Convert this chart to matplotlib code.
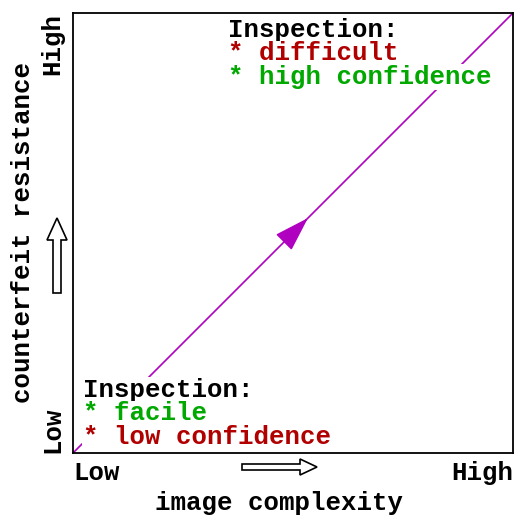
import matplotlib
matplotlib.use("Agg")
import matplotlib.pyplot as plt
from matplotlib.patches import FancyArrow

# Data
line_x = [0.0, 1.0]
line_y = [0.0, 1.0]
arrow_start = (0.482, 0.482)
arrow_end = (0.534, 0.534)
x_ticks = [0.0, 1.0]
x_ticklabels = ["Low", "High"]
y_ticks = [0.0, 1.0]
y_ticklabels = ["Low", "High"]
xlabel = "image complexity"
ylabel = "counterfeit resistance"
upper_lines = ["Inspection:", "* difficult", "* high confidence"]
upper_colors = ["black", "#b00000", "#00a800"]
lower_lines = ["Inspection:", "* facile", "* low confidence"]
lower_colors = ["black", "#00a800", "#b00000"]

FONT = "Liberation Mono"
FS = 18.5
MAG = "#b000c0"

W = 515
fig = plt.figure(figsize=(5.15, 5.15), dpi=100)
ax = fig.add_axes([73 / W, 62 / W, 440 / W, 440 / W])
ax.set_xlim(0, 1)
ax.set_ylim(0, 1)
for s in ax.spines.values():
    s.set_linewidth(1.3)

ax.plot(line_x, line_y, color=MAG, lw=1.2, zorder=1)
ax.annotate("", xy=arrow_end, xytext=arrow_start,
            arrowprops=dict(arrowstyle="-|>,head_length=2.2,head_width=0.7",
                            color=MAG, lw=1.2, shrinkA=0, shrinkB=0), zorder=2)

ax.set_xticks(x_ticks)
ax.set_xticklabels(x_ticklabels, fontfamily=FONT, fontweight="bold", fontsize=FS)
ax.set_yticks(y_ticks)
ax.set_yticklabels(y_ticklabels, fontfamily=FONT, fontweight="bold", fontsize=FS,
                   rotation=90)
ax.tick_params(axis="both", length=0)
ax.tick_params(axis="x", pad=6)
ax.tick_params(axis="y", pad=6)
xl = ax.get_xticklabels()
xl[0].set_ha("left")
xl[1].set_ha("right")
yl = ax.get_yticklabels()
yl[0].set_va("bottom")
yl[1].set_va("top")
for t in yl:
    t.set_ha("right")

ax.set_xlabel(xlabel, fontfamily=FONT, fontweight="bold", fontsize=FS)
ax.xaxis.set_label_coords(0.468, -0.114)
ax.xaxis.label.set_va("center")
ax.set_ylabel(ylabel, fontfamily=FONT, fontweight="bold", fontsize=FS)
ax.yaxis.set_label_coords(-0.114, 0.502)
ax.yaxis.label.set_va("center")

def px(x, y):
    return ((x - 73) / 440, (453 - y) / 440)

for i, (txt, c) in enumerate(zip(upper_lines, upper_colors)):
    x, y = px(228, 30 + i * 23.5)
    ax.text(x, y, txt, color=c, fontfamily=FONT, fontweight="bold", fontsize=FS,
            ha="left", va="center", transform=ax.transAxes, zorder=3,
            bbox=dict(facecolor="white", edgecolor="none", pad=0.5))
for i, (txt, c) in enumerate(zip(lower_lines, lower_colors)):
    x, y = px(83, 390 + i * 23.5)
    ax.text(x, y, txt, color=c, fontfamily=FONT, fontweight="bold", fontsize=FS,
            ha="left", va="center", transform=ax.transAxes, zorder=3,
            bbox=dict(facecolor="white", edgecolor="none", pad=0.5))

# hollow direction arrows (figure fraction coords)
def f(x, y):
    return x / W, (W - y) / W

hx, hy = f(242, 467)
fig.patches.append(FancyArrow(hx, hy, 75 / W, 0, width=6 / W, head_width=16 / W,
                              head_length=17 / W, length_includes_head=True,
                              facecolor="white", edgecolor="black", lw=1.2,
                              transform=fig.transFigure, figure=fig))
vx, vy = f(57, 293)
fig.patches.append(FancyArrow(vx, vy, 0, 75 / W, width=8 / W, head_width=20 / W,
                              head_length=22 / W, length_includes_head=True,
                              facecolor="white", edgecolor="black", lw=1.2,
                              transform=fig.transFigure, figure=fig))

fig.savefig("out.png", dpi=100)
